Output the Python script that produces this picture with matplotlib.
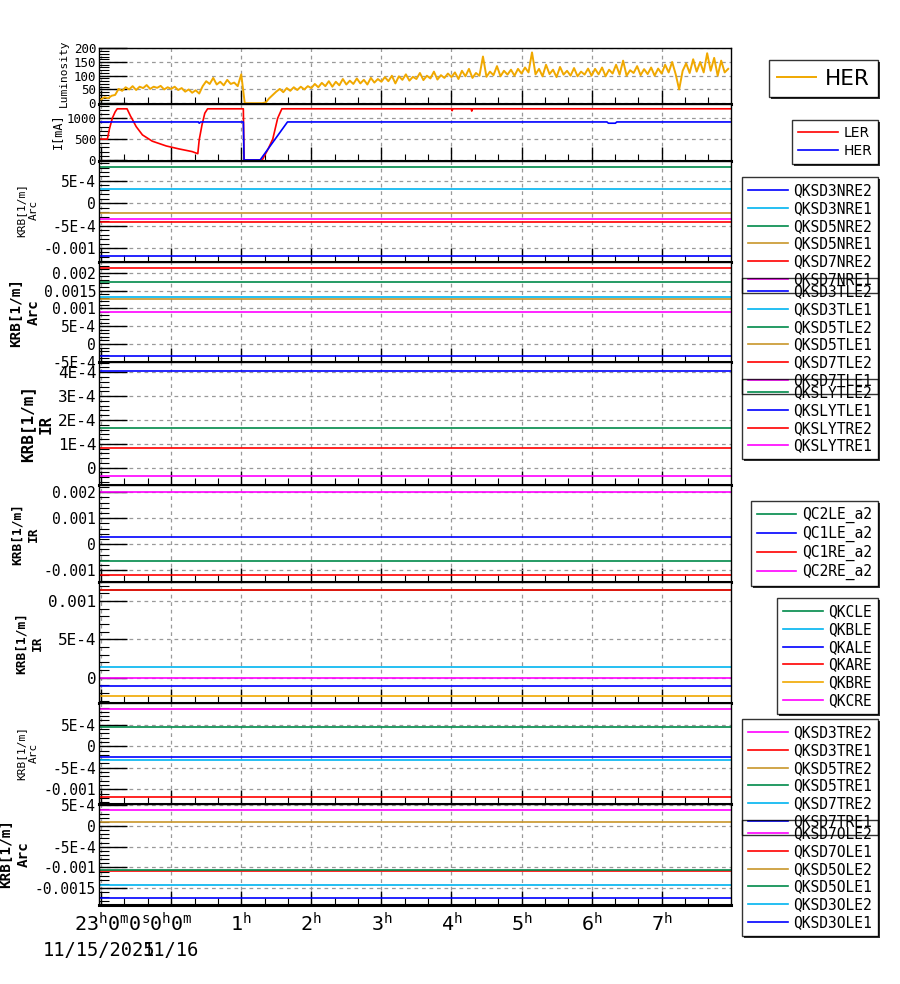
import numpy as np
import matplotlib
matplotlib.use("Agg")
import matplotlib.pyplot as plt
import matplotlib.transforms as mtransforms
from matplotlib.ticker import MultipleLocator, FixedLocator, FixedFormatter
from matplotlib.patches import Rectangle

plt.rcParams["font.family"] = ["DejaVu Sans Mono"]
plt.rcParams["mathtext.fontset"] = "custom"
plt.rcParams["mathtext.rm"] = "DejaVu Sans Mono"

# time in hours from 11/16 00:00
t_min, t_max = -1.03, 7.99

# luminosity (HER), one sample every 3 minutes starting 23:00
lum_t0 = -1.0
lum_dt = 0.05
lum_her = [14, 22, 18, 27, 30, 52, 45, 58, 50, 62, 48, 60, 55, 66, 52, 60, 56, 63, 50, 58,
           52, 60, 48, 55, 42, 50, 38, 47, 35, 62, 80, 70, 92, 68, 78, 65, 85, 70, 75, 62,
           105, 0, 0, 0, 0, 0, 0, 3, 18, 30, 42, 52, 40, 55, 45, 58, 48, 60, 50, 62,
           55, 70, 58, 74, 62, 80, 60, 78, 65, 88, 68, 82, 70, 90, 72, 85, 68, 92, 75, 88,
           78, 95, 80, 100, 72, 98, 85, 105, 82, 96, 88, 110, 84, 100, 90, 115, 86, 102, 92, 108,
           95, 112, 88, 118, 98, 125, 92, 110, 100, 170, 96, 115, 102, 135, 98, 118, 104, 122, 100, 125,
           108, 130, 112, 185, 105, 125, 98, 140, 106, 122, 95, 132, 104, 118, 100, 128, 98, 115, 104, 126,
           100, 125, 105, 130, 98, 122, 108, 140, 104, 155, 100, 120, 110, 135, 102, 124, 106, 130, 100, 126,
           108, 140, 112, 150, 106, 50, 118, 145, 110, 160, 115, 150, 112, 182, 118, 165, 100, 155, 112, 125]

# beam currents [mA]
ler_t = [-1.05, -0.91, -0.88, -0.84, -0.80, -0.77, -0.63, -0.58, -0.55, -0.50, -0.41, -0.27,
         -0.07, 0.11, 0.30, 0.38, 0.40, 0.44, 0.48, 0.52, 1.03, 1.04, 1.30, 1.38, 1.45, 1.52,
         1.58, 4.00, 4.01, 4.02, 4.28, 4.29, 4.30, 8.05]
ler_i = [500, 500, 750, 1000, 1150, 1225, 1225, 1050, 960, 800, 600, 450,
         335, 265, 200, 150, 480, 840, 1120, 1225, 1225, 0, 0, 250, 500, 1000,
         1225, 1225, 1180, 1225, 1225, 1170, 1225, 1225]
her_t = [-1.05, 0.39, 0.40, 0.42, 1.03, 1.04, 1.27, 1.66, 6.22, 6.24, 6.34, 6.36, 8.05]
her_i = [910, 910, 880, 910, 910, 0, 0, 910, 910, 880, 880, 910, 910]

# KRB settings [1/m], constant over the period
krb_t = [-1.1, 8.1]
nre_names = ["QKSD3NRE2", "QKSD3NRE1", "QKSD5NRE2", "QKSD5NRE1", "QKSD7NRE2", "QKSD7NRE1"]
nre_vals = [-1.17e-3, 3.27e-4, 8.05e-4, -2.24e-4, -4.25e-4, -3.44e-4]
tle_names = ["QKSD3TLE2", "QKSD3TLE1", "QKSD5TLE2", "QKSD5TLE1", "QKSD7TLE2", "QKSD7TLE1"]
tle_vals = [-3.45e-4, 1.33e-3, 1.73e-3, 1.26e-3, 2.13e-3, 8.9e-4]
sly_names = ["QKSLYTLE2", "QKSLYTLE1", "QKSLYTRE2", "QKSLYTRE1"]
sly_vals = [1.65e-4, 4.04e-4, 0.81e-4, -0.36e-4]
qc_names = ["QC2LE_a2", "QC1LE_a2", "QC1RE_a2", "QC2RE_a2"]
qc_vals = [-6.5e-4, 2.7e-4, -1.19e-3, 2.02e-3]
qk_names = ["QKCLE", "QKBLE", "QKALE", "QKARE", "QKBRE", "QKCRE"]
qk_vals = [1.15e-3, 1.35e-4, -1.12e-4, 1.15e-3, -2.35e-4, 0.0]
tre_names = ["QKSD3TRE2", "QKSD3TRE1", "QKSD5TRE2", "QKSD5TRE1", "QKSD7TRE2", "QKSD7TRE1"]
tre_vals = [8.6e-4, -1.19e-3, 1.3e-3, 4.4e-4, -3.3e-4, -2.4e-4]
ole_names = ["QKSD7OLE2", "QKSD7OLE1", "QKSD5OLE2", "QKSD5OLE1", "QKSD3OLE2", "QKSD3OLE1"]
ole_vals = [3.8e-4, -1.08e-3, 1.0e-4, -1.05e-3, -1.43e-3, -1.74e-3]

# y ticks of each panel
lum_ticks = [0, 50, 100, 150, 200]
lum_tick_labels = ["0", "50", "100", "150", "200"]
cur_ticks = [0, 500, 1000]
cur_tick_labels = ["0", "500", "1000"]
nre_ticks = [5e-4, 0, -5e-4, -1e-3]
nre_tick_labels = ["5E-4", "0", "-5E-4", "-0.001"]
tle_ticks = [2e-3, 1.5e-3, 1e-3, 5e-4, 0, -5e-4]
tle_tick_labels = ["0.002", "0.0015", "0.001", "5E-4", "0", "-5E-4"]
sly_ticks = [4e-4, 3e-4, 2e-4, 1e-4, 0]
sly_tick_labels = ["4E-4", "3E-4", "2E-4", "1E-4", "0"]
qc_ticks = [2e-3, 1e-3, 0, -1e-3]
qc_tick_labels = ["0.002", "0.001", "0", "-0.001"]
qk_ticks = [1e-3, 5e-4, 0]
qk_tick_labels = ["0.001", "5E-4", "0"]
tre_ticks = [5e-4, 0, -5e-4, -1e-3]
tre_tick_labels = ["5E-4", "0", "-5E-4", "-0.001"]
ole_ticks = [5e-4, 0, -5e-4, -1e-3, -1.5e-3]
ole_tick_labels = ["5E-4", "0", "-5E-4", "-0.001", "-0.0015"]

hour_ticks = [1, 2, 3, 4, 5, 6, 7]

BLUE = "#0000ff"
SKY = "#00b4f0"
GREEN = "#008a4a"
GOLD = "#c8962a"
RED = "#ff0000"
MAG = "#ff00ff"
ORANGE = "#f0a800"

nre_colors = [BLUE, SKY, GREEN, GOLD, RED, MAG]
tle_colors = [BLUE, SKY, GREEN, GOLD, RED, MAG]
sly_colors = [GREEN, BLUE, RED, MAG]
qc_colors = [GREEN, BLUE, RED, MAG]
qk_colors = [GREEN, SKY, BLUE, RED, ORANGE, MAG]
tre_colors = [MAG, RED, GOLD, GREEN, SKY, BLUE]
ole_colors = [MAG, RED, GOLD, GREEN, SKY, BLUE]

W, H = 900.0, 984.0
LEFT, RIGHT = 99, 731
LEG_RIGHT = 878

fig = plt.figure(figsize=(W / 100, H / 100), dpi=100)


def make_axes(top, bot, ylim, ticks, labels, minor, size):
    ax = fig.add_axes([LEFT / W, 1 - bot / H, (RIGHT - LEFT) / W, (bot - top) / H])
    ax.set_xlim(t_min, t_max)
    ax.set_ylim(*ylim)
    ax.yaxis.set_major_locator(FixedLocator(ticks))
    ax.yaxis.set_major_formatter(FixedFormatter(labels))
    ax.yaxis.set_minor_locator(MultipleLocator(minor))
    ax.xaxis.set_major_locator(MultipleLocator(1))
    ax.xaxis.set_minor_locator(MultipleLocator(1 / 3))
    ax.tick_params(axis="y", which="major", direction="in", length=20, width=1, pad=2, labelsize=size)
    ax.tick_params(axis="y", which="minor", direction="in", length=7, width=0.8)
    ax.tick_params(axis="x", which="major", direction="in", length=10, width=1, labelbottom=False)
    ax.tick_params(axis="x", which="minor", direction="in", length=5, width=0.8)
    ax.grid(True, which="major", color="#999999", linestyle=(0, (3, 3)), linewidth=0.9)
    ax.spines["bottom"].set_linewidth(2.2)
    for s in ["top", "left", "right"]:
        ax.spines[s].set_linewidth(1.0)
    return ax


legends = []


def add_legend(handles, labels, top_px, size, hlen, family="DejaVu Sans Mono", spacing=0.2):
    leg = fig.legend(handles, labels, loc="upper right",
                     bbox_to_anchor=(LEG_RIGHT / W, 1 - top_px / H),
                     prop={"family": family, "size": size}, handlelength=hlen,
                     labelspacing=spacing, borderpad=0.4, handletextpad=0.4,
                     borderaxespad=0, fancybox=False, facecolor="none",
                     edgecolor="black", framealpha=None)
    leg.get_frame().set_linewidth(1.0)
    leg.set_zorder(5)
    legends.append(leg)


# luminosity
ax1 = make_axes(48, 104, (-3, 201), lum_ticks, lum_tick_labels, 10, 9)
lum_t = lum_t0 + lum_dt * np.arange(len(lum_her))
l1, = ax1.plot(lum_t, lum_her, color=ORANGE, lw=1.4)
add_legend([l1], ["HER"], 60, 15.5, 1.8, family="DejaVu Sans")

# currents
ax2 = make_axes(104, 161, (-25, 1340), cur_ticks, cur_tick_labels, 100, 9)
l2a, = ax2.plot(ler_t, ler_i, color=RED, lw=1.2)
l2b, = ax2.plot(her_t, her_i, color=BLUE, lw=1.2)
add_legend([l2a, l2b], ["LER", "HER"], 120, 10, 2.9, family="DejaVu Sans", spacing=0.32)

krb_panels = [
    (161, 262, (-1.313e-3, 9.46e-4), nre_ticks, nre_tick_labels, 1e-4, 10.5, nre_names, nre_vals, nre_colors, 177),
    (262, 362, (-5.05e-4, 2.30e-3), tle_ticks, tle_tick_labels, 1e-4, 10.5, tle_names, tle_vals, tle_colors, 278),
    (362, 485, (-0.725e-4, 4.43e-4), sly_ticks, sly_tick_labels, 2e-5, 11.5, sly_names, sly_vals, sly_colors, 379),
    (485, 582, (-1.45e-3, 2.28e-3), qc_ticks, qc_tick_labels, 2e-4, 10.5, qc_names, qc_vals, qc_colors, 501),
    (582, 703, (-3.3e-4, 1.248e-3), qk_ticks, qk_tick_labels, 1e-4, 11.5, qk_names, qk_vals, qk_colors, 598),
    (703, 804, (-1.342e-3, 1.007e-3), tre_ticks, tre_tick_labels, 1e-4, 10.5, tre_names, tre_vals, tre_colors, 719),
    (804, 905, (-1.904e-3, 5.3e-4), ole_ticks, ole_tick_labels, 1e-4, 10.5, ole_names, ole_vals, ole_colors, 820),
]

ax_last = None
for top, bot, ylim, ticks, labels, minor, size, names, vals, colors, leg_top in krb_panels:
    ax = make_axes(top, bot, ylim, ticks, labels, minor, size)
    lines = []
    for v, c in zip(vals, colors):
        ln, = ax.plot(krb_t, [v, v], color=c, lw=1.2)
        lines.append(ln)
    add_legend(lines, names, leg_top, 10.5, 2.7)
    ax_last = ax

# y axis titles
ylabels = [
    ("Luminosity", 64, 73, 8, "normal"),
    ("I[mA]", 57, 131, 8.5, "normal"),
    ("KRB[1/m]\nArc", 28, 210, 8, "normal"),
    ("KRB[1/m]\nArc", 25, 312, 10.3, "bold"),
    ("KRB[1/m]\nIR", 37, 424, 11.5, "bold"),
    ("KRB[1/m]\nIR", 25, 534, 9.3, "bold"),
    ("KRB[1/m]\nIR", 29, 643, 9.3, "bold"),
    ("KRB[1/m]\nArc", 28, 753, 8, "normal"),
    ("KRB[1/m]\nArc", 15, 854, 10.3, "bold"),
]
for txt, x, y, size, weight in ylabels:
    fig.text(x / W, 1 - y / H, txt, rotation=90, ha="center", va="center",
             multialignment="center", fontsize=size, fontweight=weight, linespacing=1.3)

# time axis labels under the last panel
trans = mtransforms.blended_transform_factory(ax_last.transData, fig.transFigure)
for h in hour_ticks:
    ax_last.text(h, 1 - 932 / H, str(h) + r"$^{\rm h}$", transform=trans,
                 ha="center", va="baseline", fontsize=14.5)
ax_last.text(-0.84, 1 - 932 / H, r"23$^{\rm h}$0$^{\rm m}$0$^{\rm s}$", transform=trans,
             ha="center", va="baseline", fontsize=14.5)
ax_last.text(0.0, 1 - 932 / H, r"0$^{\rm h}$0$^{\rm m}$", transform=trans,
             ha="center", va="baseline", fontsize=14.5)
ax_last.text(-1.03, 1 - 956 / H, "11/15/2025", transform=trans,
             ha="center", va="baseline", fontsize=13.5)
ax_last.text(0.0, 1 - 956 / H, "11/16", transform=trans,
             ha="center", va="baseline", fontsize=13.5)

# legend shadows and white backgrounds drawn under all legend frames
fig.canvas.draw()
inv = fig.transFigure.inverted()
for leg in legends:
    bb = leg.get_window_extent()
    (x0, y0), (x1, y1) = inv.transform([(bb.x0 + 2, bb.y0 - 2), (bb.x1 + 2, bb.y1 - 2)])
    fig.add_artist(Rectangle((x0, y0), x1 - x0, y1 - y0, transform=fig.transFigure,
                             facecolor="#333333", edgecolor="none", zorder=1))
for leg in legends:
    bb = leg.get_window_extent()
    (x0, y0), (x1, y1) = inv.transform([(bb.x0, bb.y0), (bb.x1, bb.y1)])
    fig.add_artist(Rectangle((x0, y0), x1 - x0, y1 - y0, transform=fig.transFigure,
                             facecolor="white", edgecolor="none", zorder=2))

fig.savefig("out.png", dpi=100)
